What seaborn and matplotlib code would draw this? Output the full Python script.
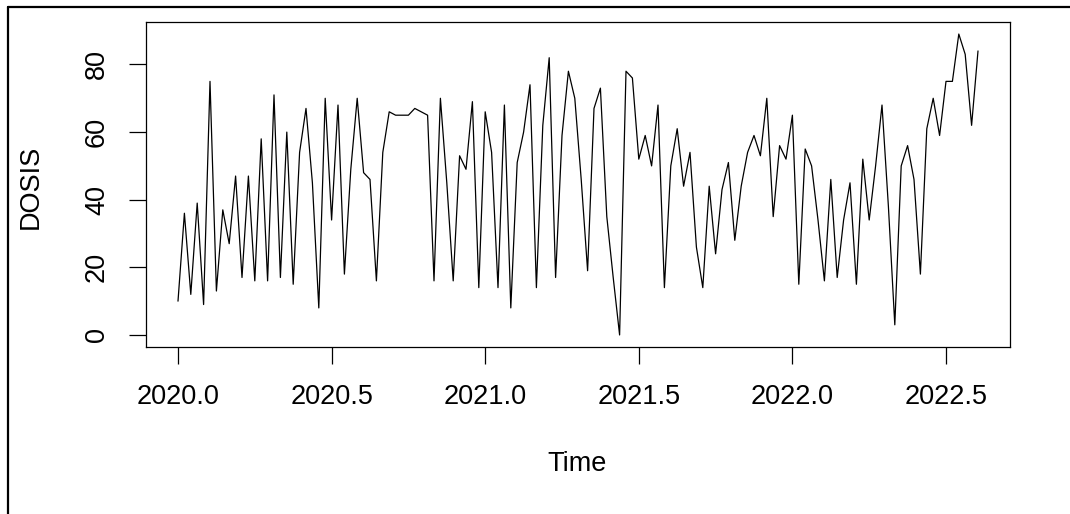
import numpy as np
import pandas as pd
import matplotlib
matplotlib.use("Agg")
import matplotlib.pyplot as plt
from matplotlib.lines import Line2D
import seaborn as sns

# serie temporale, frequenza 48 per anno, inizio 2020.0
start = 2020.0
freq = 48
dosis = [10, 36, 12, 39, 9, 75, 13, 37, 27, 47,
         17, 47, 16, 58, 16, 71, 17, 60, 15, 54,
         67, 45, 8, 70, 34, 68, 18, 49, 70, 48,
         46, 16, 54, 66, 65, 65, 65, 67, 66, 65,
         16, 70, 45, 16, 53, 49, 69, 14, 66, 54,
         14, 68, 8, 51, 60, 74, 14, 62, 82, 17,
         59, 78, 70, 46, 19, 67, 73, 35, 17, 0,
         78, 76, 52, 59, 50, 68, 14, 50, 61, 44,
         54, 26, 14, 44, 24, 43, 51, 28, 44, 54,
         59, 53, 70, 35, 56, 52, 65, 15, 55, 50,
         34, 16, 46, 17, 34, 45, 15, 52, 34, 50,
         68, 38, 3, 50, 56, 46, 18, 61, 70, 59,
         75, 75, 89, 83, 62, 84]
x_ticks = [2020.0, 2020.5, 2021.0, 2021.5, 2022.0, 2022.5]
y_ticks = [0, 20, 40, 60, 80]

time = start + np.arange(len(dosis)) / freq
df = pd.DataFrame({"Time": time, "DOSIS": dosis})

sns.set_style("white")
plt.rcParams['font.family'] = ['Liberation Sans', 'DejaVu Sans']
plt.rcParams['text.color'] = 'black'
plt.rcParams['axes.labelcolor'] = 'black'

fig = plt.figure(figsize=(10.7, 5.14), dpi=100)
ax = fig.add_axes([146 / 1070, 1 - 347 / 514, (1010 - 146) / 1070, (347 - 22) / 514])

sns.lineplot(data=df, x="Time", y="DOSIS", color="black", linewidth=0.9, ax=ax)

# limiti come in R (estensione del 4%)
xr = time.max() - time.min()
ax.set_xlim(time.min() - 0.04 * xr, time.max() + 0.04 * xr)
yr = max(dosis) - min(dosis)
ax.set_ylim(min(dosis) - 0.04 * yr, max(dosis) + 0.04 * yr)

ax.set_xticks(x_ticks)
ax.set_xticklabels([f"{t:.1f}" for t in x_ticks])
ax.set_yticks(y_ticks)
ax.set_yticklabels([str(t) for t in y_ticks], rotation=90, va="center")

ax.tick_params(axis="both", direction="out", length=12, width=0.9,
               labelsize=19.5, colors="black", labelcolor="black",
               bottom=True, left=True)
ax.tick_params(axis="x", pad=15)
ax.tick_params(axis="y", pad=14)

for s in ax.spines.values():
    s.set_visible(True)
    s.set_color("black")
    s.set_linewidth(0.9)

ax.set_xlabel("Time", fontsize=19.5, labelpad=0, color="black")
ax.set_ylabel("DOSIS", fontsize=19.5, labelpad=0, color="black")
ax.xaxis.set_label_coords((577 - 146) / (1010 - 146), -(464 - 347) / (347 - 22))
ax.yaxis.set_label_coords(-(146 - 31) / (1010 - 146), (347 - 187) / (347 - 22))
ax.xaxis.label.set_va("center")
ax.yaxis.label.set_va("center")

# cornice dello screenshot (solo lati superiore e sinistro)
fig.add_artist(Line2D([8 / 1070, 1], [1 - 7 / 514, 1 - 7 / 514], color="black", linewidth=1.6))
fig.add_artist(Line2D([8 / 1070, 8 / 1070], [0, 1 - 7 / 514], color="black", linewidth=1.6))

fig.savefig("out.png", dpi=100)
